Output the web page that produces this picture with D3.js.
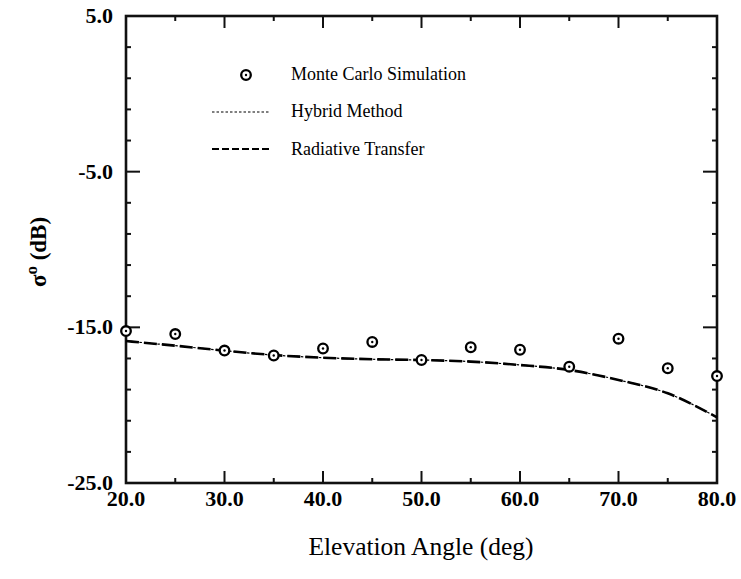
<!DOCTYPE html>
<html>
<head>
<meta charset="utf-8">
<script src="https://cdn.jsdelivr.net/npm/d3@7/dist/d3.min.js"></script>
<style>
  html, body { margin: 0; padding: 0; background: #fff; }
  svg { display: block; }
</style>
</head>
<body>
<svg id="chart" width="741" height="579"></svg>
<script>
// Elevation angles (deg)
const mcAngles = [20, 25, 30, 35, 40, 45, 50, 55, 60, 65, 70, 75, 80];
// Monte Carlo simulation, sigma0 (dB)
const mcValues = [-15.24, -15.43, -16.49, -16.81, -16.36, -15.94, -17.10, -16.28, -16.44, -17.53, -15.73, -17.63, -18.13];

// Radiative transfer curve
const rtAngles = [20, 25, 30, 35, 40, 45, 50, 55, 60, 65, 70, 75, 80];
const rtValues = [-15.88, -16.18, -16.50, -16.78, -16.95, -17.05, -17.10, -17.20, -17.42, -17.74, -18.38, -19.24, -20.78];

// Hybrid method curve (lies on the radiative transfer curve)
const hyAngles = [20, 25, 30, 35, 40, 45, 50, 55, 60, 65, 70, 75, 80];
const hyValues = [-15.88, -16.18, -16.50, -16.78, -16.95, -17.05, -17.10, -17.20, -17.42, -17.74, -18.38, -19.24, -20.78];

// Axis ticks
const xMajorTicks = [20, 30, 40, 50, 60, 70, 80];
const xMinorTicks = [25, 35, 45, 55, 65, 75];
const yMajorTicks = [5, -5, -15, -25];
const yMinorTicks = [3, 1, -1, -3, -7, -9, -11, -13, -17, -19, -21, -23];

const legendLabels = ["Monte Carlo Simulation", "Hybrid Method", "Radiative Transfer"];

const FONT = "'Liberation Serif', 'Times New Roman', Times, 'DejaVu Serif', serif";

const svg = d3.select("#chart").attr("font-family", FONT);
const pLeft = 126, pRight = 717, pTop = 16, pBottom = 483;

const x = d3.scaleLinear().domain([20, 80]).range([pLeft, pRight]);
const y = d3.scaleLinear().domain([-25, 5]).range([pBottom, pTop]);

const axisColor = "#111";

// Ticks on all four sides, pointing inward
function ticks(group, vals, len, orient) {
  vals.forEach(v => {
    if (orient === "bottom") group.append("line").attr("x1", x(v)).attr("x2", x(v)).attr("y1", pBottom).attr("y2", pBottom - len);
    if (orient === "top") group.append("line").attr("x1", x(v)).attr("x2", x(v)).attr("y1", pTop).attr("y2", pTop + len);
    if (orient === "left") group.append("line").attr("x1", pLeft).attr("x2", pLeft + len).attr("y1", y(v)).attr("y2", y(v));
    if (orient === "right") group.append("line").attr("x1", pRight).attr("x2", pRight - len).attr("y1", y(v)).attr("y2", y(v));
  });
}
const tg = svg.append("g").attr("stroke", axisColor).attr("stroke-width", 2);
ticks(tg, xMajorTicks, 12, "bottom");
ticks(tg, xMinorTicks, 5, "bottom");
ticks(tg, xMajorTicks, 12, "top");
ticks(tg, xMinorTicks, 5, "top");
ticks(tg, yMajorTicks, 14, "left");
ticks(tg, yMinorTicks, 5, "left");
ticks(tg, yMajorTicks, 14, "right");
ticks(tg, yMinorTicks, 5, "right");

// Frame
svg.append("rect")
  .attr("x", pLeft).attr("y", pTop)
  .attr("width", pRight - pLeft).attr("height", pBottom - pTop)
  .attr("fill", "none").attr("stroke", axisColor).attr("stroke-width", 2.6);

// Tick labels (plain hyphen for negatives)
const fmt = v => d3.format(".1f")(v).replace("\u2212", "-");
svg.append("g").selectAll("text").data(xMajorTicks).join("text")
  .attr("x", d => x(d)).attr("y", pBottom + 23)
  .attr("text-anchor", "middle")
  .attr("font-size", 22).attr("font-weight", "bold")
  .text(d => fmt(d));
svg.append("g").selectAll("text").data(yMajorTicks).join("text")
  .attr("x", pLeft - 13).attr("y", d => y(d) + 7)
  .attr("text-anchor", "end")
  .attr("font-size", 22).attr("font-weight", "bold")
  .text(d => fmt(d));

// Axis titles
svg.append("text")
  .attr("x", 421).attr("y", 555)
  .attr("text-anchor", "middle")
  .attr("font-size", 25.5)
  .text("Elevation Angle (deg)");

const yt = svg.append("text")
  .attr("transform", `translate(46, 252) rotate(-90)`)
  .attr("text-anchor", "middle")
  .attr("font-size", 23).attr("font-weight", "bold");
yt.append("tspan").text("σ");
yt.append("tspan").attr("font-size", 17).attr("dy", -9).text("o");
yt.append("tspan").attr("dy", 9).text(" (dB)");

// Curves
const plot = svg.append("g");
const line = (xs, ys) => d3.line().x((d, i) => x(xs[i])).y(d => y(d)).curve(d3.curveMonotoneX)(ys);

plot.append("path")
  .attr("d", line(hyAngles, hyValues))
  .attr("fill", "none").attr("stroke", "#000").attr("stroke-width", 1.2)
  .attr("stroke-dasharray", "2.5,2");

plot.append("path")
  .attr("d", line(rtAngles, rtValues))
  .attr("fill", "none").attr("stroke", "#000").attr("stroke-width", 2.6)
  .attr("stroke-dasharray", "13,5");

// Monte Carlo markers
function marker(g, cx, cy) {
  g.append("circle").attr("cx", cx).attr("cy", cy).attr("r", 4.8)
    .attr("fill", "#fff").attr("stroke", "#000").attr("stroke-width", 2.3);
  g.append("circle").attr("cx", cx).attr("cy", cy).attr("r", 1.2).attr("fill", "#000");
}
const mg = plot.append("g");
mcAngles.forEach((a, i) => marker(mg, x(a), y(mcValues[i])));

// Legend
const lg = svg.append("g");
marker(lg, 246, 75);
lg.append("line").attr("x1", 212).attr("x2", 270).attr("y1", 112).attr("y2", 112)
  .attr("stroke", "#000").attr("stroke-width", 1.2).attr("stroke-dasharray", "2.5,2");
lg.append("line").attr("x1", 212).attr("x2", 270).attr("y1", 149).attr("y2", 149)
  .attr("stroke", "#000").attr("stroke-width", 2).attr("stroke-dasharray", "7,3");
const ly = [80, 117, 155];
legendLabels.forEach((t, i) => {
  lg.append("text").attr("x", 291).attr("y", ly[i]).attr("font-size", 18).text(t);
});
</script>
</body>
</html>
